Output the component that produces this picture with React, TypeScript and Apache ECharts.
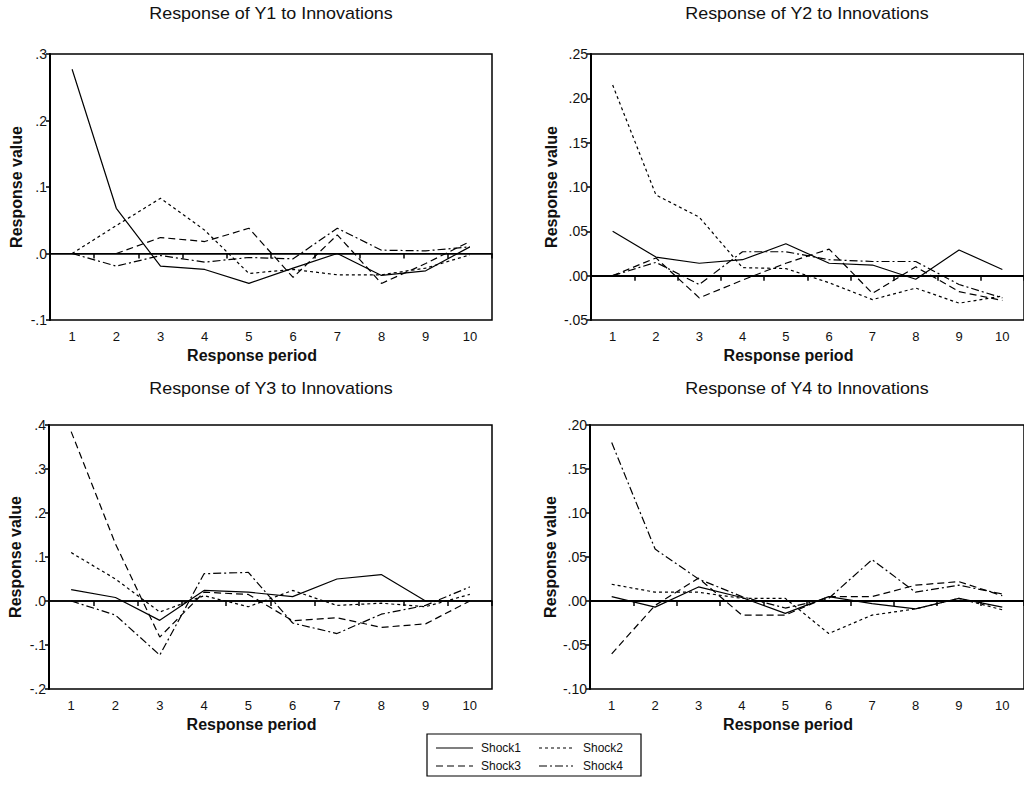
import React, { useEffect, useRef } from "react";
import * as echarts from "echarts";

const periods = ["1", "2", "3", "4", "5", "6", "7", "8", "9", "10"];
const shockNames = ["Shock1", "Shock2", "Shock3", "Shock4"];
const panelTitles = [
  "Response of Y1 to Innovations",
  "Response of Y2 to Innovations",
  "Response of Y3 to Innovations",
  "Response of Y4 to Innovations",
];
const xAxisTitle = "Response period";
const yAxisTitle = "Response value";

// Response of Y1
const y1Shock1 = [0.277, 0.068, -0.019, -0.024, -0.045, -0.022, 0.0, -0.033, -0.026, 0.01];
const y1Shock2 = [0.0, 0.042, 0.083, 0.035, -0.03, -0.024, -0.032, -0.032, -0.022, -0.002];
const y1Shock3 = [0.0, 0.0, 0.024, 0.018, 0.038, -0.036, 0.028, -0.045, -0.015, 0.018];
const y1Shock4 = [0.0, -0.019, -0.003, -0.013, -0.006, -0.008, 0.038, 0.005, 0.004, 0.01];

// Response of Y2
const y2Shock1 = [0.05, 0.021, 0.014, 0.018, 0.036, 0.014, 0.012, -0.004, 0.029, 0.007];
const y2Shock2 = [0.215, 0.091, 0.066, 0.009, 0.008, -0.008, -0.027, -0.014, -0.031, -0.023];
const y2Shock3 = [0.0, 0.02, -0.025, -0.005, 0.014, 0.03, -0.02, 0.01, -0.018, -0.028];
const y2Shock4 = [0.0, 0.015, -0.01, 0.027, 0.027, 0.018, 0.016, 0.016, -0.01, -0.025];

// Response of Y3
const y3Shock1 = [0.026, 0.008, -0.044, 0.024, 0.02, 0.01, 0.05, 0.06, 0.0, 0.0];
const y3Shock2 = [0.11, 0.05, -0.025, 0.012, -0.013, 0.024, -0.01, -0.005, -0.013, 0.015];
const y3Shock3 = [0.385, 0.13, -0.082, 0.02, 0.015, -0.045, -0.038, -0.06, -0.052, 0.0];
const y3Shock4 = [0.0, -0.032, -0.123, 0.062, 0.065, -0.05, -0.074, -0.03, -0.01, 0.032];

// Response of Y4
const y4Shock1 = [0.005, -0.007, 0.016, 0.004, -0.014, 0.005, -0.003, -0.009, 0.003, -0.007];
const y4Shock2 = [0.019, 0.01, 0.01, 0.003, 0.003, -0.037, -0.016, -0.009, 0.003, -0.01];
const y4Shock3 = [-0.06, -0.005, 0.026, -0.016, -0.016, 0.005, 0.005, 0.018, 0.022, 0.006];
const y4Shock4 = [0.18, 0.059, 0.025, 0.005, -0.008, 0.003, 0.047, 0.01, 0.018, 0.008];

const panelData = [
  [y1Shock1, y1Shock2, y1Shock3, y1Shock4],
  [y2Shock1, y2Shock2, y2Shock3, y2Shock4],
  [y3Shock1, y3Shock2, y3Shock3, y3Shock4],
  [y4Shock1, y4Shock2, y4Shock3, y4Shock4],
];

// y-axis scales
const yMins = [-0.1, -0.05, -0.2, -0.1];
const yMaxs = [0.3, 0.25, 0.4, 0.2];
const yIntervals = [0.1, 0.05, 0.1, 0.05];
const yDecimals = [1, 2, 1, 2];

const FONT = "'Liberation Sans', Arial, sans-serif";

const layouts = [
  { left: 50, top: 54, width: 442, height: 266, zeroW: 1 },
  { left: 591, top: 54, width: 438, height: 266, zeroW: 2 },
  { left: 49, top: 425, width: 443, height: 264, zeroW: 1.5 },
  { left: 590, top: 425, width: 438, height: 264, zeroW: 2 },
];

const dashes: any[] = ["solid", [3, 3], [7, 4], [8, 3, 2, 3]];

function fmt(v: number, d: number) {
  const s = Math.abs(v).toFixed(d).replace(/^0/, "");
  return (v < -1e-9 ? "-" : "") + s;
}

export default function App() {
  const ref = useRef<HTMLDivElement>(null);
  useEffect(() => {
    if (!ref.current) return;
    const chart = echarts.init(ref.current, undefined, { renderer: "svg" });

    const grids = layouts.map((l) => ({
      left: l.left,
      top: l.top,
      width: l.width,
      height: l.height,
      show: true,
      borderColor: "#000",
      borderWidth: 1.5,
      containLabel: false,
    }));

    const xAxes = layouts.map((_, i) => ({
      type: "category",
      gridIndex: i,
      data: periods,
      boundaryGap: true,
      axisLine: { lineStyle: { color: "#000", width: 1.5 } },
      axisTick: { show: true, length: 5, lineStyle: { color: "#000", width: 1.5 } },
      axisLabel: { color: "#111", fontSize: 13, fontFamily: FONT, margin: 10 },
      splitLine: { show: false },
      name: xAxisTitle,
      nameLocation: "middle",
      nameGap: 27,
      nameTextStyle: {
        color: "#111",
        fontSize: 16,
        fontWeight: "bold",
        fontFamily: FONT,
        padding: [0, 38, 0, 0],
      },
    }));

    const yAxes = layouts.map((_, i) => ({
      type: "value",
      gridIndex: i,
      min: yMins[i],
      max: yMaxs[i],
      interval: yIntervals[i],
      axisLine: { show: true, lineStyle: { color: "#000", width: 2 } },
      axisTick: { show: true, length: 4, lineStyle: { color: "#000", width: 1.5 } },
      axisLabel: {
        color: "#111",
        fontSize: 14,
        fontFamily: FONT,
        margin: 3,
        formatter: (v: number) => fmt(v, yDecimals[i]),
      },
      splitLine: { show: false },
      name: yAxisTitle,
      nameLocation: "middle",
      nameGap: 26,
      nameRotate: 90,
      nameTextStyle: { color: "#111", fontSize: 16, fontWeight: "bold", fontFamily: FONT },
    }));

    const series: any[] = [];
    panelData.forEach((panel, p) => {
      panel.forEach((vals, s) => {
        const item: any = {
          type: "line",
          name: shockNames[s],
          xAxisIndex: p,
          yAxisIndex: p,
          data: vals,
          symbol: "none",
          lineStyle: { color: "#000", width: 1.2, type: dashes[s] },
          z: 3,
        };
        if (s === 0) {
          item.markLine = {
            silent: true,
            symbol: ["none", "none"],
            label: { show: false },
            lineStyle: { color: "#000", width: layouts[p].zeroW, type: "solid" },
            data: [{ yAxis: 0 }],
            z: 2,
          };
        }
        series.push(item);
      });
    });

    const titleCenters = [271, 807, 271, 807];
    const titleYs = [14, 14, 389, 389];

    const graphics: any[] = panelTitles.map((t, i) => ({
      type: "text",
      x: titleCenters[i],
      y: titleYs[i],
      scaleX: 1.12,
      style: {
        text: t,
        fill: "#111",
        font: `16px ${FONT}`,
        textAlign: "center",
        textVerticalAlign: "middle",
      },
    }));

    // legend box
    const lgX = 427;
    const lgY = 734;
    graphics.push({
      type: "rect",
      shape: { x: lgX, y: lgY, width: 214, height: 42 },
      style: { fill: "#fff", stroke: "#000", lineWidth: 1.2 },
    });
    const legendPos = [
      { lx1: 436, lx2: 473, tx: 481, y: 748 },
      { lx1: 539, lx2: 573, tx: 583, y: 748 },
      { lx1: 436, lx2: 473, tx: 481, y: 766 },
      { lx1: 539, lx2: 573, tx: 583, y: 766 },
    ];
    shockNames.forEach((n, i) => {
      const p = legendPos[i];
      graphics.push({
        type: "line",
        shape: { x1: p.lx1, y1: p.y, x2: p.lx2, y2: p.y },
        style: {
          stroke: "#000",
          lineWidth: 1.2,
          lineDash: i === 0 ? null : dashes[i],
        },
      });
      graphics.push({
        type: "text",
        x: p.tx,
        y: p.y,
        style: {
          text: n,
          fill: "#111",
          font: `12px ${FONT}`,
          textAlign: "left",
          textVerticalAlign: "middle",
        },
      });
    });

    chart.setOption({
      animation: false,
      backgroundColor: "#fff",
      grid: grids,
      xAxis: xAxes,
      yAxis: yAxes,
      series,
      graphic: graphics,
    });
    return () => chart.dispose();
  }, []);

  return (
    <div
      ref={ref}
      style={{ position: "absolute", left: 0, top: 0, width: 1024, height: 785 }}
    />
  );
}
